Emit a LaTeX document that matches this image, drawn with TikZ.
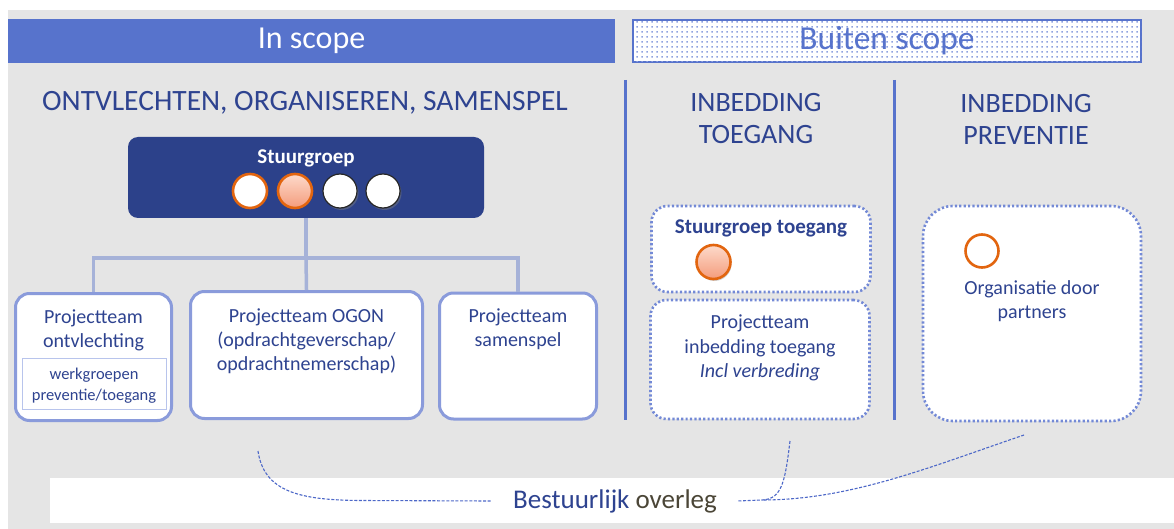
\documentclass[tikz,border=0pt]{standalone}
\usepackage{fontspec}
\setmainfont{Carlito}
\usetikzlibrary{patterns,shadows}
\definecolor{pagegray}{HTML}{E5E5E5}
\definecolor{hblue}{HTML}{5773CC}
\definecolor{navy}{HTML}{2C418A}
\definecolor{tblue}{HTML}{2E4390}
\definecolor{boxline}{HTML}{8A9BDB}
\definecolor{innerline}{HTML}{B8C4EC}
\definecolor{dotline}{HTML}{7389D6}
\definecolor{connline}{HTML}{A6B2D8}
\definecolor{orng}{HTML}{E2650F}
\definecolor{salmonA}{HTML}{FDDACB}
\definecolor{salmonB}{HTML}{F49C7C}
\definecolor{dashblue}{HTML}{4D68C8}
\definecolor{olive}{HTML}{4B4637}
\definecolor{dotfill}{HTML}{8FA2E0}

% fine square dot screen for the out-of-scope header
\pgfdeclarepatternformonly{finedots}{\pgfpointorigin}{\pgfpoint{5pt}{5pt}}{\pgfpoint{5pt}{5pt}}%
  {\pgfpathrectangle{\pgfpoint{1.7pt}{1.7pt}}{\pgfpoint{1.6pt}{1.6pt}}\pgfusepath{fill}}

\begin{document}
\begin{tikzpicture}[x=1pt,y=-1pt,
  hdr/.style={font=\fontsize{29.5}{32}\selectfont, text=tblue, align=center},
  ptxt/.style={font=\fontsize{20}{24.2}\selectfont, text=tblue, align=center},
  smalltxt/.style={font=\fontsize{16.5}{21}\selectfont, text=tblue, align=center},
  solidbox/.style={draw=boxline, line width=3pt, fill=white, rounded corners=14pt,
                   inner sep=0pt, minimum width=#1},
  dotbox/.style={draw=dotline, line width=2.6pt, dash pattern=on 2.2pt off 2.2pt,
                 fill=white, rounded corners=16pt, inner sep=0pt},
  conn/.style={draw=connline, line width=3.5pt},
  dashlink/.style={draw=dashblue, line width=1.1pt, dash pattern=on 3pt off 1.6pt},
  member/.style={circle, inner sep=0pt, minimum size=34pt, line width=2.6pt},
  plainmember/.style={member, draw=black!85, line width=1.2pt, fill=white,
                      drop shadow={shadow xshift=1.5pt, shadow yshift=-2pt, opacity=0.45}},
  salmon/.style={member, draw=orng, top color=salmonA, bottom color=salmonB},
  ring/.style={member, draw=orng, fill=white}
]
% page and grey canvas
\fill[white] (0,0) rectangle (1174,529);
\fill[pagegray] (8,10) rectangle (1174,529);
\useasboundingbox (0,0) rectangle (1174,529);

% scope headers
\node[fill=hblue, minimum width=607pt, minimum height=44pt, inner sep=0pt,
      text=white, font=\fontsize{32}{36}\selectfont] (insc) at (311.5,41) {In scope};
\node[draw=hblue, line width=2.6pt, fill=white,
      postaction={pattern=finedots, pattern color=dotfill},
      minimum width=508pt, minimum height=42pt, inner sep=0pt,
      text=hblue, font=\fontsize{33.5}{36}\selectfont] (outsc) at (887,41) {Buiten scope};

% column separators
\draw[hblue, line width=3pt] (625,80) -- (625,420);
\draw[hblue, line width=3pt] (894,80) -- (894,420);

% column headings
\node[hdr] (h1) at (305,103) {ONTVLECHTEN, ORGANISEREN, SAMENSPEL};
\node[hdr, font=\fontsize{28}{32}\selectfont] (h2) at (756,119) {INBEDDING\\TOEGANG};
\node[hdr, font=\fontsize{28}{32}\selectfont] (h3) at (1026,119) {INBEDDING\\PREVENTIE};

% steering group
\node[fill=navy, rounded corners=10pt, minimum width=356pt, minimum height=81pt,
      inner sep=0pt] (sg) at (306,177.5) {};
\node[font=\bfseries\fontsize{21}{24}\selectfont, text=white] (sgl) at (306,158) {Stuurgroep};
\node[ring] (m1) at (250,191) {};
\node[salmon] (m2) at (295,191) {};
\node[plainmember] (m3) at (340,191) {};
\node[plainmember] (m4) at (383,191) {};

% project teams
\node[solidbox=156pt, minimum height=127pt] (t1) at (93.5,357) {};
\node[solidbox=232pt, minimum height=127pt] (t2) at (306.5,355) {};
\node[solidbox=157pt, minimum height=126pt] (t3) at (518,356) {};
\node[draw=innerline, line width=1pt, fill=white, minimum width=144pt,
      minimum height=51pt, inner sep=0pt] (wg) at (94,383.5) {};
\node[ptxt] (t1l) at (93.5,330) {Projectteam\\ontvlechting};
\node[smalltxt] (wgl) at (94,385.5) {werkgroepen\\preventie/toegang};
\node[ptxt] (t2l) at (306.5,341.5) {Projectteam OGON\\(opdrachtgeverschap/\\opdrachtnemerschap)};
\node[ptxt] (t3l) at (518,329) {Projectteam\\samenspel};

% tree connectors
\coordinate (j) at (306,258);
\draw[conn] (sg.south) -- (j);
\draw[conn] (j) -| (t1.north);
\draw[conn] (j) -| (t3.north);
\draw[conn] (j) -- (t2.north);

% access column
\node[dotbox, minimum width=219pt, minimum height=86pt] (sgt) at (761,249) {};
\node[font=\bfseries\fontsize{21}{24}\selectfont, text=tblue] (sgtl) at (761,228) {Stuurgroep toegang};
\node[salmon, drop shadow={shadow xshift=1pt, shadow yshift=-2pt, opacity=0.35}] (m5) at (713.5,262) {};
\node[dotbox, minimum width=219pt, minimum height=119pt] (pti) at (760,359.5) {};
\node[ptxt] (ptil) at (760,348) {Projectteam\\inbedding toegang\\\textit{Incl verbreding}};

% prevention column
\node[dotbox, rounded corners=30pt, minimum width=218pt, minimum height=215pt] (org) at (1032,313.5) {};
\node[ring, minimum size=33pt] (m6) at (982,251) {};
\node[ptxt] (orgl) at (1032,301) {Organisatie door\\partners};

% administrative consultation bar
\node[fill=white, minimum width=1124pt, minimum height=45pt, inner sep=0pt] (bar) at (612,500.5) {};
\node[font=\fontsize{27}{30}\selectfont, inner sep=0pt] (bo) at (615,501)
  {\textcolor{tblue}{Bestuurlijk} \textcolor{olive}{overleg}};

% dashed links to the consultation
\coordinate (a1) at (258,451);
\coordinate (a2) at (790,441);
\coordinate (a3) at (1024,435);
\coordinate (mrg) at (762,500);
\draw[dashlink] (a1) .. controls (264,492) and (300,500) .. (360,500.5) -- ([xshift=-22pt]bo.west);
\draw[dashlink] (a2) .. controls (785,482) and (782,499) .. (mrg) -- ([xshift=20pt]bo.east);
\draw[dashlink] (a3) .. controls (930,467) and (850,500) .. (mrg);
\end{tikzpicture}
\end{document}
